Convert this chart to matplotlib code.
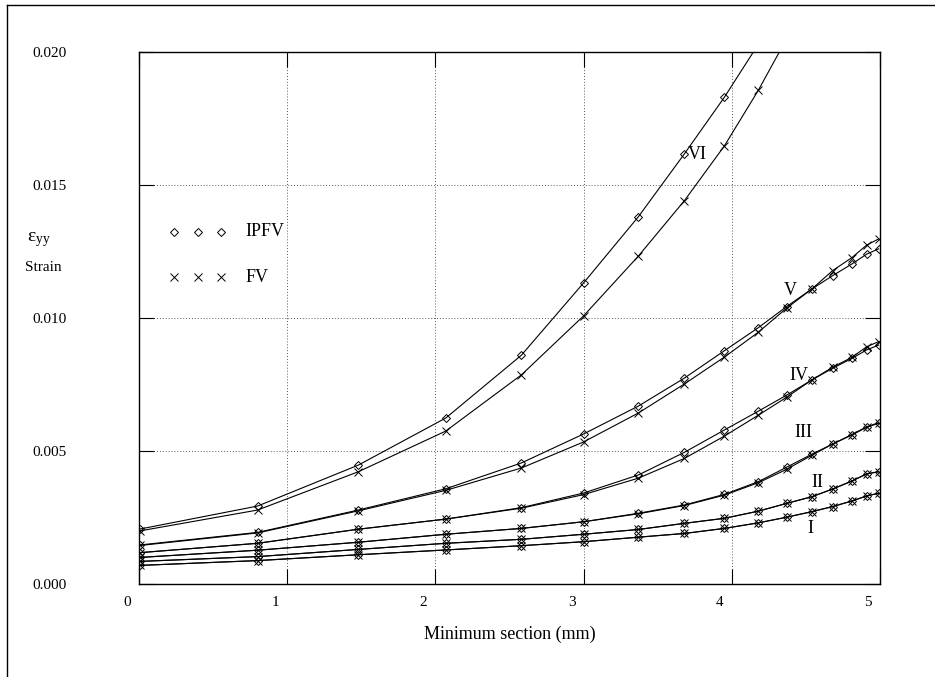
"""
Strain vs minimum section: IPFV and FV results for six loading cases (I-VI).
"""

import matplotlib
matplotlib.use("Agg")
import matplotlib.pyplot as plt
import matplotlib.transforms as mtransforms
from matplotlib.lines import Line2D
from matplotlib.ticker import FormatStrFormatter

plt.rcParams["font.family"] = ["Liberation Serif", "DejaVu Serif"]
plt.rcParams["mathtext.fontset"] = "custom"
plt.rcParams["mathtext.rm"] = "Liberation Serif"
plt.rcParams["mathtext.it"] = "Liberation Serif:italic"

# ── Data ──────────────────────────────────────────────────────────────────────
section = [0.01, 0.80, 1.48, 2.07, 2.58, 3.00, 3.37, 3.68, 3.95,
           4.18, 4.37, 4.54, 4.68, 4.81, 4.91, 4.99]

ipfv_I = [0.00070, 0.00088, 0.00110, 0.00128, 0.00144, 0.00159, 0.00176, 0.00190,
          0.00209, 0.00230, 0.00251, 0.00272, 0.00291, 0.00312, 0.00331, 0.00341]
fv_I = [0.00070, 0.00088, 0.00110, 0.00128, 0.00144, 0.00159, 0.00176, 0.00190,
        0.00209, 0.00230, 0.00251, 0.00272, 0.00291, 0.00312, 0.00331, 0.00341]

ipfv_II = [0.00085, 0.00103, 0.00130, 0.00153, 0.00168, 0.00187, 0.00205, 0.00228,
           0.00247, 0.00274, 0.00303, 0.00328, 0.00357, 0.00387, 0.00414, 0.00422]
fv_II = [0.00085, 0.00103, 0.00130, 0.00153, 0.00168, 0.00187, 0.00205, 0.00228,
         0.00247, 0.00274, 0.00303, 0.00328, 0.00357, 0.00387, 0.00414, 0.00422]

ipfv_III = [0.00100, 0.00127, 0.00157, 0.00187, 0.00209, 0.00234, 0.00266, 0.00297,
            0.00337, 0.00385, 0.00439, 0.00488, 0.00526, 0.00560, 0.00589, 0.00604]
fv_III = [0.00100, 0.00127, 0.00157, 0.00187, 0.00209, 0.00234, 0.00264, 0.00295,
          0.00334, 0.00381, 0.00431, 0.00484, 0.00526, 0.00562, 0.00591, 0.00606]

ipfv_IV = [0.00118, 0.00153, 0.00206, 0.00244, 0.00287, 0.00342, 0.00410, 0.00495,
           0.00579, 0.00650, 0.00710, 0.00767, 0.00811, 0.00848, 0.00880, 0.00898]
fv_IV = [0.00118, 0.00153, 0.00206, 0.00244, 0.00285, 0.00336, 0.00398, 0.00472,
         0.00556, 0.00635, 0.00702, 0.00767, 0.00815, 0.00852, 0.00892, 0.00911]

ipfv_V = [0.00147, 0.00194, 0.00278, 0.00358, 0.00455, 0.00564, 0.00669, 0.00774,
          0.00877, 0.00964, 0.01043, 0.01109, 0.01159, 0.01203, 0.01240, 0.01260]
fv_V = [0.00145, 0.00192, 0.00275, 0.00352, 0.00436, 0.00534, 0.00643, 0.00752,
        0.00853, 0.00947, 0.01037, 0.01109, 0.01178, 0.01227, 0.01274, 0.01297]

ipfv_VI = [0.00207, 0.00293, 0.00447, 0.00624, 0.00860, 0.01132, 0.01381, 0.01617,
           0.01830, 0.02030]
fv_VI = [0.00200, 0.00278, 0.00422, 0.00575, 0.00786, 0.01008, 0.01233, 0.01441,
         0.01647, 0.01857, 0.02050]

curve_names = ["I", "II", "III", "IV", "V", "VI"]
label_x = [4.51, 4.54, 4.42, 4.39, 4.35, 3.70]
label_y = [0.00207, 0.00383, 0.00568, 0.00785, 0.01105, 0.01613]

x_ticks = [0, 1, 2, 3, 4, 5]
y_ticks = [0.000, 0.005, 0.010, 0.015, 0.020]


def draw_series(ax, ys, marker, ms):
    xs = section[:len(ys)]
    ax.plot(xs, ys, color="black", linewidth=0.8, marker=marker,
            markersize=ms, markerfacecolor="none", markeredgecolor="black",
            markeredgewidth=0.7, zorder=3)


def main():
    fig = plt.figure(figsize=(9.35, 6.77), dpi=100)
    ax = fig.add_axes([139 / 935, 1 - 584 / 677, 741 / 935, 532 / 677])

    pairs = [(ipfv_I, fv_I), (ipfv_II, fv_II), (ipfv_III, fv_III),
             (ipfv_IV, fv_IV), (ipfv_V, fv_V), (ipfv_VI, fv_VI)]
    for ipfv, fv in pairs:
        draw_series(ax, ipfv, "D", 4.0)
        draw_series(ax, fv, "x", 5.5)

    for name, lx, ly in zip(curve_names, label_x, label_y):
        ax.text(lx, ly, name, fontsize=13, ha="left", va="center", zorder=4)

    # legend drawn by hand: three markers then the name
    for mk, ms, ty, name in [("D", 4.0, 0.662, "IPFV"), ("x", 5.5, 0.577, "FV")]:
        ax.plot([0.047, 0.079, 0.110], [ty] * 3, transform=ax.transAxes,
                linestyle="none", marker=mk, markersize=ms,
                markerfacecolor="none", markeredgecolor="black",
                markeredgewidth=0.7, clip_on=False)
        ax.text(0.144, ty, name, transform=ax.transAxes, fontsize=13,
                ha="left", va="center")

    ax.set_xlim(0, 5)
    ax.set_ylim(0, 0.020)
    ax.set_xticks(x_ticks)
    ax.set_yticks(y_ticks)
    ax.yaxis.set_major_formatter(FormatStrFormatter("%.3f"))
    ax.tick_params(direction="in", length=11, width=0.8, top=True, right=True,
                   labelsize=11)
    ax.tick_params(axis="x", pad=9)
    ax.tick_params(axis="y", pad=52)
    for sp in ax.spines.values():
        sp.set_linewidth(1.0)
    ax.grid(True, linestyle=(0, (1, 2)), color="0.35", linewidth=0.7)

    # x tick labels sit a little to the left of their ticks
    shift = mtransforms.ScaledTranslation(-0.12, 0, fig.dpi_scale_trans)
    for lab in ax.get_xticklabels():
        lab.set_transform(lab.get_transform() + shift)

    ax.set_xlabel("Minimum section (mm)", fontsize=13)
    ax.xaxis.label.set_va("center")
    ax.xaxis.set_label_coords(0.5, -(634 - 584) / 532)

    fig.text(27 / 935, 1 - 240 / 677, r"$\mathrm{ε}_{\mathrm{yy}}$",
             fontsize=14, ha="left", va="center")
    fig.text(25 / 935, 1 - 267 / 677, "Strain", fontsize=11,
             ha="left", va="center")

    # outer frame (open on the right and bottom)
    fig.add_artist(Line2D([7 / 935, 7 / 935], [0, 1 - 5 / 677],
                          color="black", linewidth=1.0))
    fig.add_artist(Line2D([7 / 935, 1], [1 - 5 / 677, 1 - 5 / 677],
                          color="black", linewidth=1.0))

    fig.savefig("out.png", dpi=100)


if __name__ == "__main__":
    main()
